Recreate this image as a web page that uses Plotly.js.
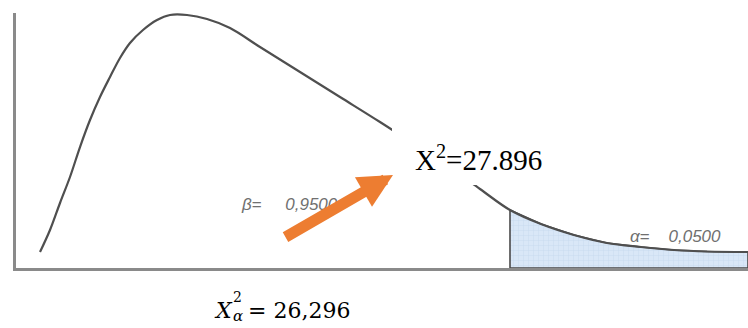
<!DOCTYPE html>
<html>
<head>
<meta charset="utf-8">
<script src="https://cdn.plot.ly/plotly-3.0.1.min.js"></script>
<style>html,body{margin:0;padding:0;background:#fff;}#chart{width:748px;height:328px;}</style>
</head>
<body>
<div id="chart"></div>
<script>
// Chi-square density curve (schematic)
const curveX = [1.278, 1.810, 2.342, 2.874, 3.407, 3.939, 4.471, 5.004, 5.536, 6.068, 6.760, 7.506, 8.198, 9.103, 10.167, 11.392, 12.988, 15.118, 17.247, 19.376, 21.505, 23.102, 24.699, 26.296, 27.946, 29.703, 31.460, 33.269, 35.026, 36.783, 38.965];
const curveY = [0.00443, 0.01051, 0.01799, 0.02518, 0.03348, 0.04095, 0.04732, 0.05285, 0.05811, 0.06226, 0.06586, 0.06862, 0.07001, 0.07001, 0.06890, 0.06641, 0.06115, 0.05423, 0.04732, 0.04040, 0.03320, 0.02767, 0.02186, 0.01605, 0.01217, 0.00913, 0.00692, 0.00581, 0.00498, 0.00457, 0.00443];
const criticalValue = 26.296;
const xMax = 38.965;
const yMax = 0.07056;

const labelChi = "X<sup>2</sup>=27.896";
const labelBeta = "<i>β</i>=\u00a0\u00a0\u00a0\u00a0 <i>0,9500</i>";
const labelAlpha = "<i>α</i>=\u00a0\u00a0\u00a0 <i>0,0500</i>";
const labelCritValue = "= 26,296";

// tail region (x >= critical value)
const tailX = [], tailY = [];
curveX.forEach((x, i) => { if (x >= criticalValue) { tailX.push(x); tailY.push(curveY[i]); } });
const polyX = [criticalValue].concat(tailX, [xMax, criticalValue]);
const polyY = [0].concat(tailY, [0, 0]);

// pixel -> paper helpers (plot area: left 16, top 13, width 732, height 255)
const L = 16, T = 13, W = 732, H = 255;
const px = p => (p - L) / W;
const py = q => (T + H - q) / H;

const traces = [
  {
    x: polyX, y: polyY, type: 'scatter', mode: 'lines', fill: 'toself',
    fillcolor: '#d9e7f7',
    fillpattern: {shape: '+', bgcolor: '#d9e7f7', fgcolor: '#c3d7ee', size: 5, solidity: 0.15},
    line: {color: '#4a4a4a', width: 1.6}, hoverinfo: 'skip', showlegend: false
  },
  {
    x: curveX, y: curveY, type: 'scatter', mode: 'lines',
    line: {color: '#4f4f4f', width: 2.2, shape: 'spline', smoothing: 1},
    hoverinfo: 'skip', showlegend: false
  }
];

const serif = 'Liberation Serif, Times New Roman, serif';
const mathSerif = 'DejaVu Serif, serif';
const sans = 'Liberation Sans, Arial, sans-serif';
const layout = {
  width: 748, height: 328,
  margin: {l: L, r: 748 - L - W, t: T, b: 328 - T - H, pad: 0},
  paper_bgcolor: '#ffffff', plot_bgcolor: '#ffffff',
  showlegend: false,
  xaxis: {range: [0, xMax], showgrid: false, zeroline: false, showticklabels: false, ticks: '',
          showline: true, linecolor: '#8a8a8a', linewidth: 3, fixedrange: true},
  yaxis: {range: [0, yMax], showgrid: false, zeroline: false, showticklabels: false, ticks: '',
          showline: true, linecolor: '#8a8a8a', linewidth: 3, fixedrange: true},
  shapes: [
    {type: 'rect', xref: 'paper', yref: 'paper', x0: px(392), x1: px(658), y0: py(185), y1: py(128),
     fillcolor: '#ffffff', line: {width: 0}, layer: 'above'}
  ],
  annotations: [
    {text: labelBeta, xref: 'paper', yref: 'paper', x: px(239), y: py(204), xanchor: 'left', yanchor: 'middle',
     showarrow: false, font: {family: sans, size: 17, color: '#707070'}},
    {text: labelAlpha, xref: 'paper', yref: 'paper', x: px(628), y: py(236), xanchor: 'left', yanchor: 'middle',
     showarrow: false, font: {family: sans, size: 17, color: '#707070'}},
    {text: '', xref: 'paper', yref: 'paper', x: px(393), y: py(175), ax: -109, ay: 63,
     showarrow: true, arrowhead: 2, arrowwidth: 11, arrowsize: 0.62, arrowcolor: '#ED7D31', standoff: 0, startstandoff: 0},
    {text: labelChi, xref: 'paper', yref: 'paper', x: px(413), y: py(158), xanchor: 'left', yanchor: 'middle',
     showarrow: false, font: {family: serif, size: 29, color: '#000000'}},
    {text: '<i>X</i>', xref: 'paper', yref: 'paper', x: px(212), y: py(310), xanchor: 'left', yanchor: 'middle',
     showarrow: false, font: {family: mathSerif, size: 22, color: '#000000'}},
    {text: '2', xref: 'paper', yref: 'paper', x: px(231), y: py(297), xanchor: 'left', yanchor: 'middle',
     showarrow: false, font: {family: mathSerif, size: 14, color: '#000000'}},
    {text: '<i>α</i>', xref: 'paper', yref: 'paper', x: px(231), y: py(316), xanchor: 'left', yanchor: 'middle',
     showarrow: false, font: {family: mathSerif, size: 15, color: '#000000'}},
    {text: labelCritValue, xref: 'paper', yref: 'paper', x: px(246), y: py(310), xanchor: 'left', yanchor: 'middle',
     showarrow: false, font: {family: mathSerif, size: 22, color: '#000000'}}
  ]
};

Plotly.newPlot('chart', traces, layout, {staticPlot: true, displayModeBar: false});
</script>
</body>
</html>
